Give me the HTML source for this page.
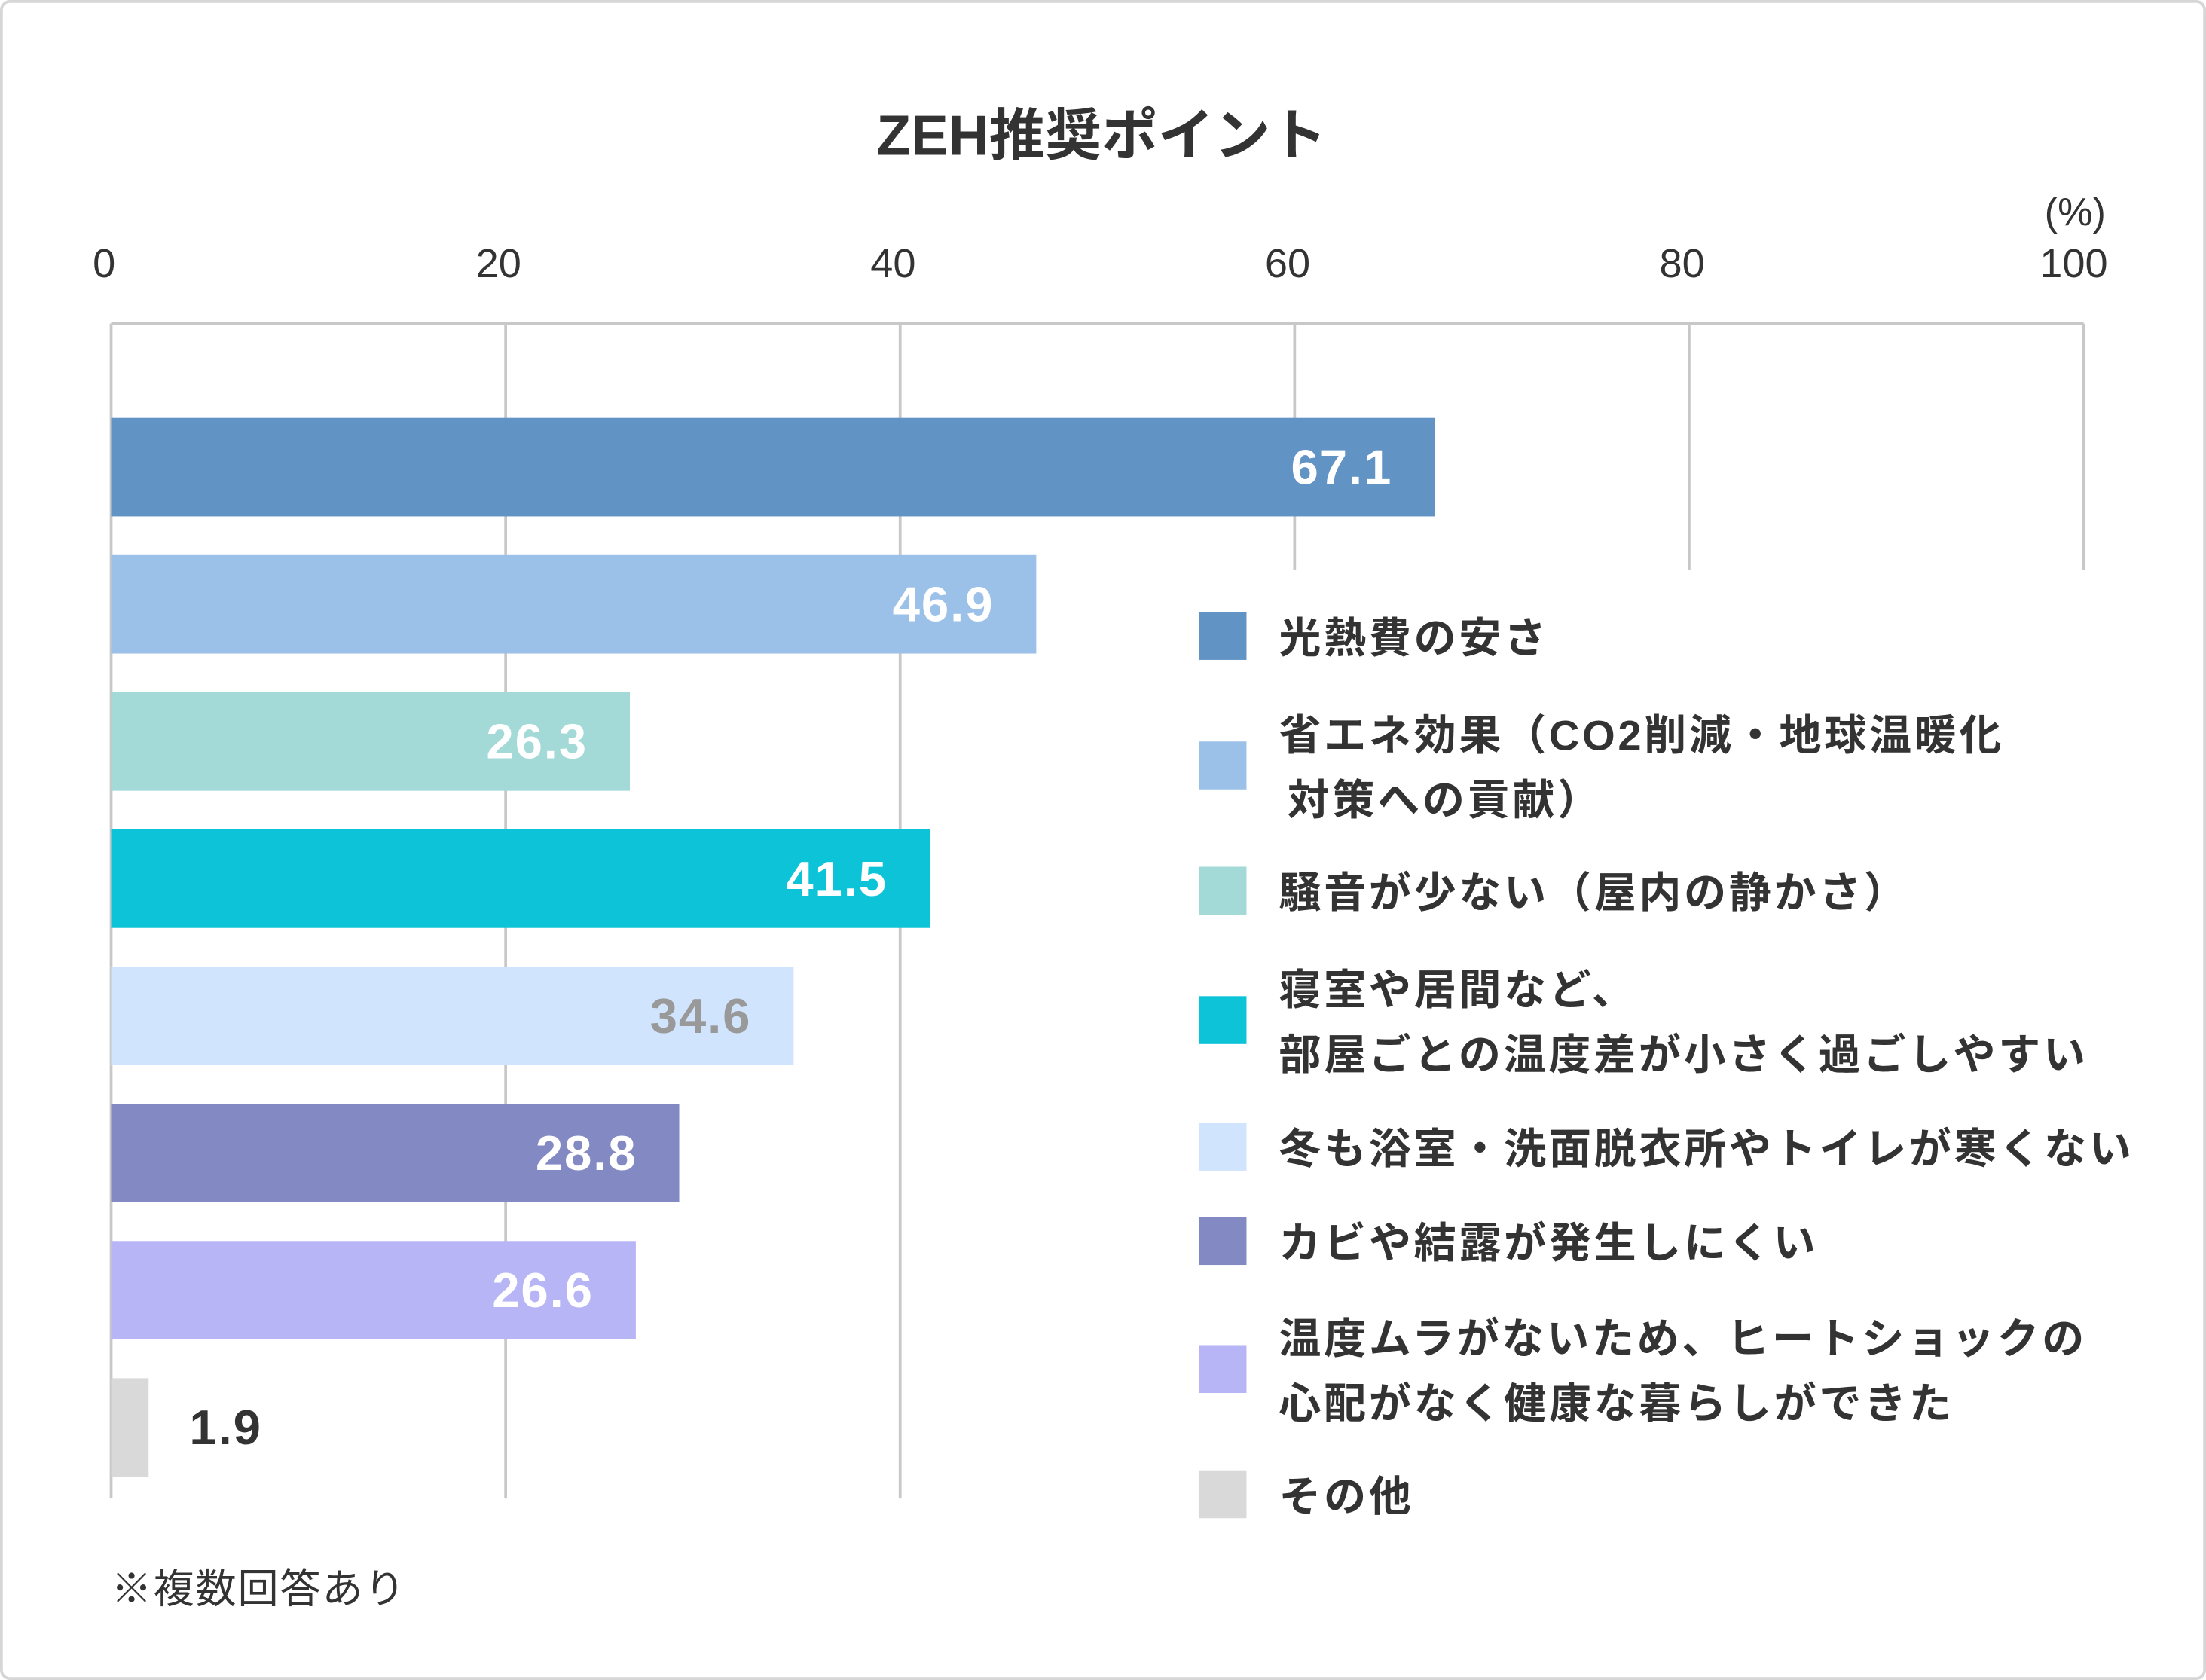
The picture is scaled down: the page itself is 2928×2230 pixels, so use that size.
<!DOCTYPE html>
<html><head><meta charset="utf-8"><style>
html,body{margin:0;padding:0;background:#fff;}
svg{display:block;font-family:"Liberation Sans","Noto Sans CJK JP",sans-serif;}
</style></head><body>
<svg id="chart" width="2928" height="2230" viewBox="0 0 1568 1194" preserveAspectRatio="none">
<rect x="1" y="1" width="1566" height="1192" rx="6" fill="#fff" stroke="#d6d6d6" stroke-width="2"/>
<text x="783" y="110" text-anchor="middle" font-size="40" font-weight="bold" fill="#333">ZEH推奨ポイント</text>
<text x="1475" y="160" text-anchor="middle" font-size="28" fill="#333">(%)</text>
<g id="grid"></g>
<g id="bars"></g>
<g id="legend"></g>
<text x="79" y="1139" font-size="29" fill="#333" letter-spacing="1">※複数回答あり</text>
</svg>
<script>
const categories=["光熱費の安さ","省エネ効果（CO2削減・地球温暖化|対策への貢献）","騒音が少ない（屋内の静かさ）","寝室や居間など、|部屋ごとの温度差が小さく過ごしやすい","冬も浴室・洗面脱衣所やトイレが寒くない","カビや結露が発生しにくい","温度ムラがないため、ヒートショックの|心配がなく健康な暮らしができた","その他"];
const values=[67.1,46.9,26.3,41.5,34.6,28.8,26.6,1.9];
const ticks=[0,20,40,60,80,100];
const colors=["#6193c4","#9cc1e8","#a3d9d6","#0dc3d8","#d0e4fd","#8389c2","#b8b5f6","#d9d9d9"];
const labelColors=["#fff","#fff","#fff","#fff","#999","#fff","#fff","#333"];
const NS="http://www.w3.org/2000/svg";
const xs=v=>79+v*14.02;
const barTop=i=>297+i*97.5;
function mk(tag,attrs,parent){const e=document.createElementNS(NS,tag);for(const k in attrs)e.setAttribute(k,attrs[k]);parent.appendChild(e);return e;}
const grid=document.getElementById('grid');
const topLine=mk('line',{x1:xs(0),x2:xs(100),y1:230,y2:230,stroke:'#c8c8c8','stroke-width':2},grid);


ticks.forEach(t=>{
  const ln=mk('line',{x1:xs(t),x2:xs(t),y1:230,y2:(t<=40?1065:405),stroke:'#c8c8c8','stroke-width':2},grid);
  
  
  const tx=mk('text',{x:xs(t)-(t===100?7:5),y:197,'text-anchor':'middle','font-size':29,fill:'#333'},grid);
  tx.textContent=t;
  
  
});
const bars=document.getElementById('bars');
const legend=document.getElementById('legend');
const legY=[452,544,633,725,815,882,973,1062];
values.forEach((v,i)=>{
  const r=mk('rect',{x:xs(0),y:barTop(i),width:xs(v)-xs(0),height:70,fill:colors[i]},bars);
  
  
  const inside=v>10;
  const t=mk('text',{x:inside?xs(v)-30:xs(v)+29,y:barTop(i)+47,'text-anchor':inside?'end':'start','font-size':35,'font-weight':'bold','letter-spacing':1,fill:labelColors[i]},bars);
  t.textContent=v.toFixed(1);
  
  
  const sw=mk('rect',{x:852,y:legY[i]-17,width:34,height:34,fill:colors[i]},legend);
  
  
  const lines=categories[i].split('|');
  const lt=mk('text',{x:909,'font-size':30,'font-weight':'bold','letter-spacing':2,fill:'#333'},legend);
  
  
  lines.forEach((s,j)=>{
    const ts=mk('tspan',{x:909+(i===1&&j===1?6:0),y:legY[i]+12+(j-(lines.length-1)/2)*46},lt);
    ts.textContent=s;
  });
});
</script>
</body></html>
